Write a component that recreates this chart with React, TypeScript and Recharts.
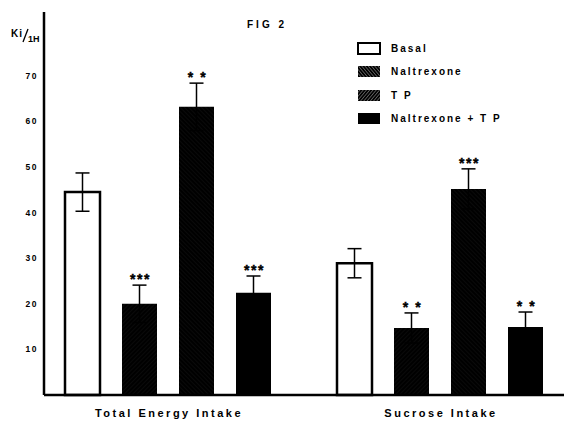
import React from 'react';
import { BarChart, Bar, XAxis, YAxis, ErrorBar, LabelList, Legend } from 'recharts';

// values (Ki/1H)
const categories = ['Total Energy Intake', 'Sucrose Intake'];
const basal = [44.5, 28.9];
const basalErr = [4.2, 3.2];
const naltrexone = [20.0, 14.7];
const naltrexoneErr = [4.1, 3.3];
const tp = [63.2, 45.2];
const tpErr = [5.2, 4.4];
const naltrexoneTp = [22.4, 14.9];
const naltrexoneTpErr = [3.7, 3.3];
const naltrexoneStars = ['***', '* *'];
const tpStars = ['* *', '***'];
const naltrexoneTpStars = ['***', '* *'];
const yTicks = [10, 20, 30, 40, 50, 60, 70];

const data = categories.map((name, i) => ({
  name,
  basal: basal[i], basalErr: basalErr[i],
  naltrexone: naltrexone[i], naltrexoneErr: naltrexoneErr[i],
  tp: tp[i], tpErr: tpErr[i],
  naltrexoneTp: naltrexoneTp[i], naltrexoneTpErr: naltrexoneTpErr[i],
}));

const series = [
  { key: 'basal', name: 'Basal', fill: '#fff', swatch: '#fff', stroke: '#000', stars: null as string[] | null },
  { key: 'naltrexone', name: 'Naltrexone', fill: 'url(#hatchN)', swatch: 'url(#hatchNL)', stroke: 'none', stars: naltrexoneStars },
  { key: 'tp', name: 'T P', fill: 'url(#hatchT)', swatch: 'url(#hatchTL)', stroke: 'none', stars: tpStars },
  { key: 'naltrexoneTp', name: 'Naltrexone + T P', fill: '#000', swatch: '#000', stroke: 'none', stars: naltrexoneTpStars },
];

const FONT = '"Liberation Sans", Arial, Helvetica, sans-serif';

// asterisks sit just above the top of the error bar
const starLabel = (stars: string[], errKey: string) => (props: any) => {
  const vb = props.viewBox ?? props;
  const { x, y, width, height } = vb;
  const idx = props.index ?? 0;
  const value = data[idx][errKey.replace('Err', '')];
  const err = data[idx][errKey];
  const errPx = value ? (height * err) / value : 0;
  return (
    <text x={x + width / 2 + 1} y={y - errPx - 1} textAnchor="middle" fontSize={14} fontWeight="bold"
      fontFamily={FONT} letterSpacing={1.5} fill="#000" stroke="#000" strokeWidth={0.4}>
      {stars[idx]}
    </text>
  );
};

const XTick = ({ x, y, payload }: any) => (
  <text x={x + 1} y={y} dy={22} textAnchor="middle" fontSize={11} fontWeight="bold" fontFamily={FONT}
    letterSpacing={2.5} fill="#000">
    {payload.value}
  </text>
);

const YUnit = () => (
  <g fontFamily={FONT} fontWeight="bold" fill="#000">
    <text x={11} y={37} fontSize={10} letterSpacing={1}>Ki</text>
    <line x1={23} y1={42} x2={28} y2={29} stroke="#000" strokeWidth={1.3} />
    <text x={28} y={42} fontSize={9}>1H</text>
  </g>
);

const Swatch = ({ fill, stroke }: { fill: string; stroke: string }) => (
  <svg width={24} height={13} style={{ display: 'block' }}>
    <rect x={1} y={1} width={22} height={11} fill={fill} stroke={stroke === 'none' ? 'none' : '#000'} strokeWidth={2} />
  </svg>
);

const renderLegend = () => (
  <div style={{ fontFamily: FONT, fontWeight: 'bold', fontSize: 10, letterSpacing: 2, color: '#000' }}>
    {series.map(s => (
      <div key={s.key} style={{ display: 'flex', alignItems: 'center', height: 23.3 }}>
        <Swatch fill={s.swatch} stroke={s.stroke} />
        <span style={{ marginLeft: 10 }}>{s.name}</span>
      </div>
    ))}
  </div>
);

export default function App() {
  return (
    <div style={{ position: 'absolute', left: 0, top: 0, width: 564, height: 422, background: '#fff' }}>
      <div style={{ position: 'absolute', left: 247, top: 19, fontFamily: FONT, fontWeight: 'bold', fontSize: 10, letterSpacing: 3 }}>
        FIG 2
      </div>
      <BarChart width={564} height={422} data={data} margin={{ top: 12, right: 0, bottom: 0, left: 0 }}
        barSize={35} barGap={22}>
        <defs>
          <pattern id="hatchN" width="3" height="3" patternUnits="userSpaceOnUse" patternTransform="rotate(45)">
            <rect width="3" height="3" fill="#000" />
            <line x1="0" y1="0" x2="0" y2="3" stroke="#fff" strokeWidth="0.4" strokeOpacity="0.2" />
          </pattern>
          <pattern id="hatchT" width="3" height="3" patternUnits="userSpaceOnUse" patternTransform="rotate(-45)">
            <rect width="3" height="3" fill="#000" />
            <line x1="0" y1="0" x2="0" y2="3" stroke="#fff" strokeWidth="0.4" strokeOpacity="0.2" />
          </pattern>
          <pattern id="hatchNL" width="2.5" height="2.5" patternUnits="userSpaceOnUse" patternTransform="rotate(-40)">
            <rect width="2.5" height="2.5" fill="#000" />
            <line x1="0" y1="0" x2="0" y2="2.5" stroke="#fff" strokeWidth="0.8" strokeOpacity="0.8" />
          </pattern>
          <pattern id="hatchTL" width="2.5" height="2.5" patternUnits="userSpaceOnUse" patternTransform="rotate(40)">
            <rect width="2.5" height="2.5" fill="#000" />
            <line x1="0" y1="0" x2="0" y2="2.5" stroke="#fff" strokeWidth="0.8" strokeOpacity="0.8" />
          </pattern>
        </defs>
        <XAxis dataKey="name" height={27} interval={0} tickLine={false} tickSize={0} tickMargin={0} tick={<XTick />}
          axisLine={{ stroke: '#000', strokeWidth: 2.5 }} padding={{ left: -12, right: -12 }} />
        <YAxis width={44} domain={[0, 84]} ticks={yTicks} tickLine={false} tickSize={0} tickMargin={6}
          axisLine={{ stroke: '#000', strokeWidth: 2.5 }}
          tick={{ fontSize: 8.5, fontWeight: 'bold', fontFamily: FONT, fill: '#000', letterSpacing: 1.5 } as any}
          label={{ content: () => <YUnit /> } as any} />
        <Legend layout="horizontal" verticalAlign="middle" align="center" content={renderLegend}
          wrapperStyle={{ position: 'absolute', left: 357, top: 37, width: 200 }} />
        {series.map(s => (
          <Bar key={s.key} dataKey={s.key} name={s.name} fill={s.fill} stroke={s.stroke}
            strokeWidth={s.stroke === 'none' ? 0 : 2.5} isAnimationActive={false}>
            <ErrorBar dataKey={`${s.key}Err`} width={7} stroke="#000" strokeWidth={1.5} direction="y" />
            {s.stars && <LabelList dataKey={s.key} content={starLabel(s.stars, `${s.key}Err`)} />}
          </Bar>
        ))}
      </BarChart>
    </div>
  );
}
